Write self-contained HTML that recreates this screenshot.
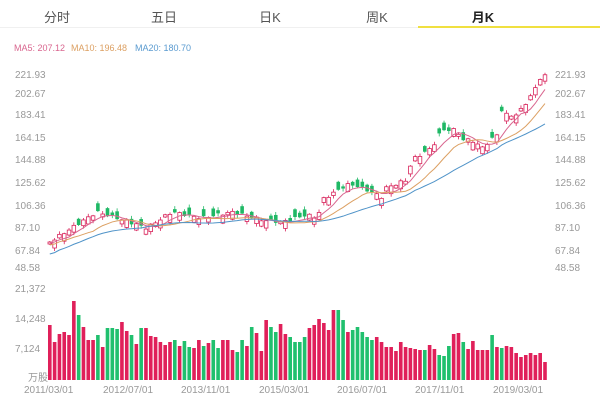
<!DOCTYPE html>
<html><head><meta charset="utf-8"><style>
body{margin:0;background:#fff;width:600px;height:403px;overflow:hidden;font-family:"Liberation Sans","Noto Sans CJK SC",sans-serif}
svg{display:block}
</style></head><body>
<svg id="s" width="600" height="403" xmlns="http://www.w3.org/2000/svg" font-family="Liberation Sans, Noto Sans CJK SC, sans-serif">
<g font-size="13" fill="#555" text-anchor="middle">
<text x="57" y="22">分时</text><text x="164" y="22">五日</text><text x="270" y="22">日K</text><text x="377" y="22">周K</text><text x="483" y="22" font-weight="bold" fill="#222">月K</text>
</g>
<line x1="0" y1="27.5" x2="600" y2="27.5" stroke="#f0f0f0"/>
<rect x="418" y="26" width="182" height="2" fill="#f0e040"/>
<g font-size="9"><text x="14" y="51" fill="#d9668f">MA5: 207.12</text><text x="71" y="51" fill="#dca063">MA10: 196.48</text><text x="135" y="51" fill="#5b9bd0">MA20: 180.70</text></g>
<g font-size="10" fill="#999">
<text x="15" y="78">221.93</text><text x="555" y="78">221.93</text>
<text x="15" y="97">202.67</text><text x="555" y="97">202.67</text>
<text x="15" y="118">183.41</text><text x="555" y="118">183.41</text>
<text x="15" y="141">164.15</text><text x="555" y="141">164.15</text>
<text x="15" y="163">144.88</text><text x="555" y="163">144.88</text>
<text x="15" y="186">125.62</text><text x="555" y="186">125.62</text>
<text x="15" y="209">106.36</text><text x="555" y="209">106.36</text>
<text x="15" y="231">87.10</text><text x="555" y="231">87.10</text>
<text x="15" y="254">67.84</text><text x="555" y="254">67.84</text>
<text x="15" y="271">48.58</text><text x="555" y="271">48.58</text>
<text x="15" y="292">21,372</text><text x="15" y="322">14,248</text><text x="15" y="352">7,124</text><text x="28" y="381">万股</text>
<text x="24" y="393">2011/03/01</text><text x="103" y="393">2012/07/01</text><text x="181" y="393">2013/11/01</text><text x="259" y="393">2015/03/01</text><text x="337" y="393">2016/07/01</text><text x="415" y="393">2017/11/01</text><text x="493" y="393">2019/03/01</text>
</g>
<g id="ch"></g>
</svg>
<script>
(function(){
var NS="http://www.w3.org/2000/svg",g=document.getElementById('ch');
function el(t,a){var e=document.createElementNS(NS,t);for(var k in a)e.setAttribute(k,a[k]);g.appendChild(e);}
function f(v){return Number(v).toFixed(2);}
var vol=[55,38,46,48,45,79,65,53,40,40,45,33,52,52,51,58,49,45,36,52,52,44,43,38,35,38,40,34,39,33,32,40,34,37,40,32,40,40,30,28,40,34,53,47,29,60,53,48,56,46,43,38,38,43,52,55,61,57,50,70,70,60,48,50,53,48,43,40,43,38,33,33,29,38,33,32,31,30,30,35,31,25,24,34,46,47,38,31,39,30,30,30,45,33,32,34,33,27,23,25,27,25,27,18];
var col="RRRRRRGRRRGRGGGRRGRGRRRRRRGRGGRRGRGGRRRGGRGRRRGGRRGGGGRRRRRRGGRGGGGGRRRRRRRRRRGRRGGGRRGRRRRRGRGRRRRRRRRRRRG";
var n=vol.length,x0=48,dx=500/n;
var kp=[[0,242],[47,212],[67,218],[97,228],[122,212],[152,218],[182,212],[212,220],[232,222],[257,215],[268,218],[272,200],[297,185],[304,185],[317,190],[332,197],[336,188],[357,180],[362,160],[382,148],[392,130],[407,130],[412,140],[422,140],[432,148],[447,135],[452,110],[457,115],[467,115],[482,95],[492,75],[500,78]];
function ky(x){for(var i=1;i<kp.length;i++){if(x<=kp[i][0]){var a=kp[i-1],b=kp[i];return a[1]+(b[1]-a[1])*(x-a[0])/(b[0]-a[0]);}}return kp[kp.length-1][1];}
var cl=[];
for(var i=0;i<n;i++){
 var c=ky(i*dx)+Math.sin(i*2.3)*1.5;var up=col.charAt(i)=='R';
 var body=2+Math.abs(Math.sin(i*1.7))*6;
 var o=up?c+body:c-body;cl.push(c);
 var X=x0+i*dx,w=dx*0.75,ty=Math.min(o,c),by=Math.max(o,c),clr=up?'#d8225a':'#1fb865';
 el('line',{x1:f(X+w/2),x2:f(X+w/2),y1:f(ty-1-(i%3)),y2:f(by+1+(i%2)*2),stroke:clr,'stroke-width':'0.8'});
 if(up)el('rect',{x:f(X),y:f(ty),width:f(w),height:f(by-ty),fill:'#fff',stroke:clr,'stroke-width':'0.8'});
 else el('rect',{x:f(X),y:f(ty),width:f(w),height:f(by-ty),fill:clr});
 el('rect',{x:f(X),y:f(380-vol[i]),width:f(w),height:f(vol[i]),fill:up?'#e0205a':'#20c06e'});
}
function ma(k,c,off,decay){var p='';for(var i=0;i<n;i++){var st=Math.max(0,i-k+1),sm=0;for(var j=st;j<=i;j++)sm+=cl[j];var y=sm/(i-st+1)+off+decay*(1-Math.min(i,k)/k);p+=(i?'L':'M')+f(x0+i*dx+dx*0.37)+','+f(y);}el('path',{d:p,fill:'none',stroke:c,'stroke-width':'1'});}
ma(5,'#d9668f',1,0);ma(10,'#dca063',3,0);ma(20,'#4f93c8',4,8);
})();
</script>
</body></html>
